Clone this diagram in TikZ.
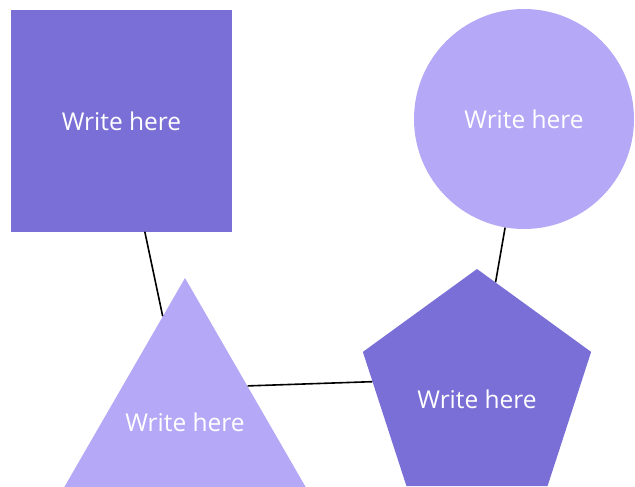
\documentclass[tikz,border=0pt]{standalone}
\usepackage{fontspec}
\setmainfont{Open Sans}
\usetikzlibrary{shapes.geometric}
\definecolor{darkviolet}{HTML}{7A6FD6}
\definecolor{lightviolet}{HTML}{B5A8F6}

\begin{document}
\begin{tikzpicture}[x=1pt,y=-1pt,font=\fontsize{24.5}{29}\selectfont,
    shapebox/.style={inner sep=0pt, text=white, draw=none}]
  \clip (0,0) rectangle (635,487);
  \node (square) [shapebox, rectangle, minimum size=221pt, fill=darkviolet] at (121.5,121) {Write here};
  \node (circ) [shapebox, circle, minimum size=220pt, fill=lightviolet] at (524,119) {Write here};
  % polygon texts go in labels so the shapes keep their size
  \node (tri) [shapebox, regular polygon, regular polygon sides=3, minimum size=288pt, fill=lightviolet,
    label={[text=white]center:Write here}] at (185,422) {};
  \node (pent) [shapebox, regular polygon, regular polygon sides=5, minimum size=240pt, fill=darkviolet,
    label={[text=white,yshift=-10pt]center:Write here}] at (477,389) {};
  \draw[line width=1.6pt] (square) -- (tri);
  \draw[line width=1.6pt] (circ) -- (pent);
  \draw[line width=1.6pt] (tri.side 3) -- (pent.176);
\end{tikzpicture}
\end{document}
